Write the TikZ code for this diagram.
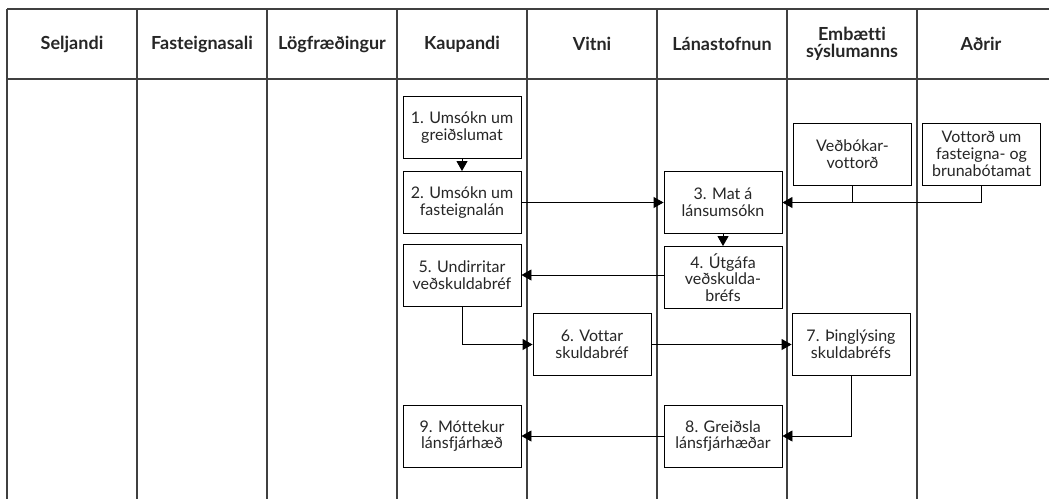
\documentclass[tikz,border=0pt]{standalone}
\usepackage{fontspec}
\setmainfont{Lato}[Ligatures={NoCommon}]
\usetikzlibrary{arrows.meta}
\begin{document}
\begin{tikzpicture}[x=1pt,y=-1pt,
  grid/.style={draw=black!75,line width=1.2pt},
  lanehead/.style={font=\fontsize{18}{16.5}\selectfont\bfseries,align=center,text=black!85},
  stepbox/.style={draw,line width=0.9pt,minimum width=118pt,minimum height=62pt,
    inner sep=1pt,align=center,font=\fontsize{16}{16.7}\selectfont,text=black!85},
  flow/.style={line width=0.9pt,-{Triangle[length=10pt,width=11pt]}},
  plain/.style={line width=0.9pt}]
\useasboundingbox (0,0) rectangle (1049,499);
\fill[white] (0,0) rectangle (1049,499);

% swimlane grid
\draw[grid] (7,9) -- (1049,9);
\draw[grid] (7,79) -- (1049,79);
\foreach \x in {7,137,267,397,527,657,787,917}
  \draw[grid] (\x,9) -- (\x,499);

% lane titles
\node[lanehead] (h1) at (72,44) {Seljandi};
\node[lanehead] (h2) at (202,44) {Fasteignasali};
\node[lanehead] (h3) at (332,44) {Lögfræðingur};
\node[lanehead] (h4) at (462,44) {Kaupandi};
\node[lanehead] (h5) at (592,44) {Vitni};
\node[lanehead] (h6) at (722,44) {Lánastofnun};
\node[lanehead] (h7) at (852,44) {Embætti\\sýslumanns};
\node[lanehead] (h8) at (981,44) {Aðrir};

% process steps
\node[stepbox] (b1) at (462,127.5) {1. Umsókn um\\greiðslumat};
\node[stepbox] (b2) at (462,202.5) {2. Umsókn um\\fasteignalán};
\node[stepbox] (b3) at (723,202.5) {3. Mat á\\lánsumsókn};
\node[stepbox] (b4) at (723,277.5) {4. Útgáfa\\veðskulda-\\bréfs};
\node[stepbox] (b5) at (462,275) {5. Undirritar\\veðskuldabréf};
\node[stepbox] (b6) at (592,344.5) {6. Vottar\\skuldabréf};
\node[stepbox] (b7) at (851,344) {7. Þinglýsing\\skuldabréfs};
\node[stepbox] (b8) at (723,436) {8. Greiðsla\\lánsfjárhæðar};
\node[stepbox] (b9) at (462,436) {9. Móttekur\\lánsfjárhæð};
\node[stepbox] (vb) at (852.5,154) {Veðbókar-\\vottorð};
\node[stepbox] (vo) at (981.5,154) {Vottorð um\\fasteigna- og\\brunabótamat};

% connectors
\draw[flow] (b1) -- (b2);
\draw[flow] (b2) -- (b3);
\draw[flow] (b3) -- (b4);
\draw[flow] (vo.south) |- (b3.east);
\draw[plain] (vb.south) -- (vb.south |- b3.east);
\draw[flow] (b4.west |- b5.east) -- (b5.east);
\draw[flow] (b5.south) |- (b6.west);
\draw[flow] (b6.east) -- (b6.east -| b7.west);
\draw[flow] (b7.south) |- (b8.east);
\draw[flow] (b8) -- (b9);
\end{tikzpicture}
\end{document}
